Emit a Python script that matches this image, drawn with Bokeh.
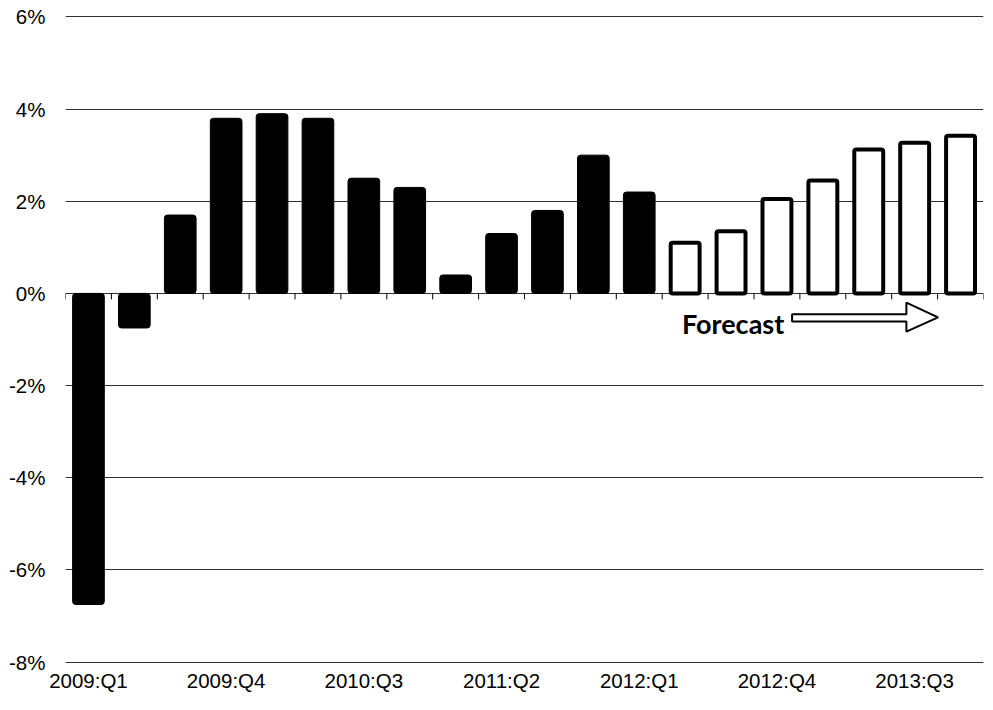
from bokeh.plotting import figure
from bokeh.models import FixedTicker, PrintfTickFormatter
from bokeh.core.properties import value
from bokeh.embed import file_html
from bokeh.resources import INLINE

# ---- data ----
quarters = [
    "2009:Q1", "2009:Q2", "2009:Q3", "2009:Q4",
    "2010:Q1", "2010:Q2", "2010:Q3", "2010:Q4",
    "2011:Q1", "2011:Q2", "2011:Q3", "2011:Q4",
    "2012:Q1", "2012:Q2", "2012:Q3", "2012:Q4",
    "2013:Q1", "2013:Q2", "2013:Q3", "2013:Q4",
]
actual = [-6.75, -0.75, 1.7, 3.8, 3.9, 3.8, 2.5, 2.3, 0.4, 1.3, 1.8, 3.0, 2.2]
forecast = [1.1, 1.35, 2.05, 2.45, 3.12, 3.27, 3.42]
y_ticks = [-8, -6, -4, -2, 0, 2, 4, 6]
label_every = 3
forecast_label = "Forecast"

n = len(quarters)
x_actual = list(range(len(actual)))
x_fore = list(range(len(actual), len(actual) + len(forecast)))

p = figure(width=985, height=694, output_backend="svg", toolbar_location=None,
           x_range=(-0.5, n - 0.5), y_range=(y_ticks[0] - 0.03, y_ticks[-1] + 0.03),
           min_border_left=65, min_border_right=2, min_border_top=15, min_border_bottom=0)
p.outline_line_color = None
p.background_fill_color = "white"
p.border_fill_color = "white"

# grid
p.xgrid.grid_line_color = None
p.ygrid.grid_line_color = "#303030"
p.ygrid.grid_line_width = 1
p.ygrid.ticker = FixedTicker(ticks=y_ticks)

# y axis
p.yaxis.ticker = FixedTicker(ticks=y_ticks)
p.yaxis.formatter = PrintfTickFormatter(format="%d%%")
p.yaxis.axis_line_color = None
p.yaxis.major_tick_line_color = None
p.yaxis.minor_tick_line_color = None
p.yaxis.major_tick_out = 0
p.yaxis.major_tick_in = 0
p.yaxis.minor_tick_out = 0
p.yaxis.major_label_standoff = 20
p.yaxis.major_label_text_font = "Liberation Sans"
p.yaxis.major_label_text_font_size = "20.5px"
p.yaxis.major_label_text_color = "black"

# x axis (labels at bottom)
tick_idx = list(range(0, n, label_every))
p.xaxis.ticker = FixedTicker(ticks=tick_idx)
p.xaxis.major_label_overrides = {i: quarters[i] for i in tick_idx}
p.xaxis.axis_line_color = None
p.xaxis.major_tick_line_color = None
p.xaxis.minor_tick_line_color = None
p.xaxis.major_tick_out = 0
p.xaxis.major_tick_in = 0
p.xaxis.minor_tick_out = 0
p.xaxis.major_label_standoff = 5
p.xaxis.major_label_text_font = "Liberation Sans"
p.xaxis.major_label_text_font_size = "20.5px"
p.xaxis.major_label_text_color = "black"

# tick marks on zero line at category boundaries
bounds = [i - 0.5 for i in range(n + 1)]
p.segment(x0=bounds, y0=[0] * len(bounds), x1=bounds, y1=[-0.13] * len(bounds),
          line_color="black", line_width=1)

# bars
p.vbar(x=x_actual, top=actual, bottom=0, width=0.69,
       fill_color="black", line_color="black", line_width=1, border_radius=3)
p.vbar(x=x_fore, top=forecast, bottom=0, width=0.63,
       fill_color="white", line_color="black", line_width=4, border_radius=2)

# forecast annotation
p.text(x=[12.93], y=[-0.66], text=[forecast_label],
       text_font=value("Lato"), text_font_style="bold", text_font_size="27px",
       text_align="left", text_baseline="alphabetic", text_color="black")
arrow_x = [15.33, 17.82, 17.82, 18.51, 17.82, 17.82, 15.33]
arrow_y = [-0.45, -0.45, -0.20, -0.52, -0.83, -0.61, -0.61]
p.patch(arrow_x, arrow_y, fill_color="white", line_color="black", line_width=2)

open("out.html", "w").write(file_html(p, INLINE))
